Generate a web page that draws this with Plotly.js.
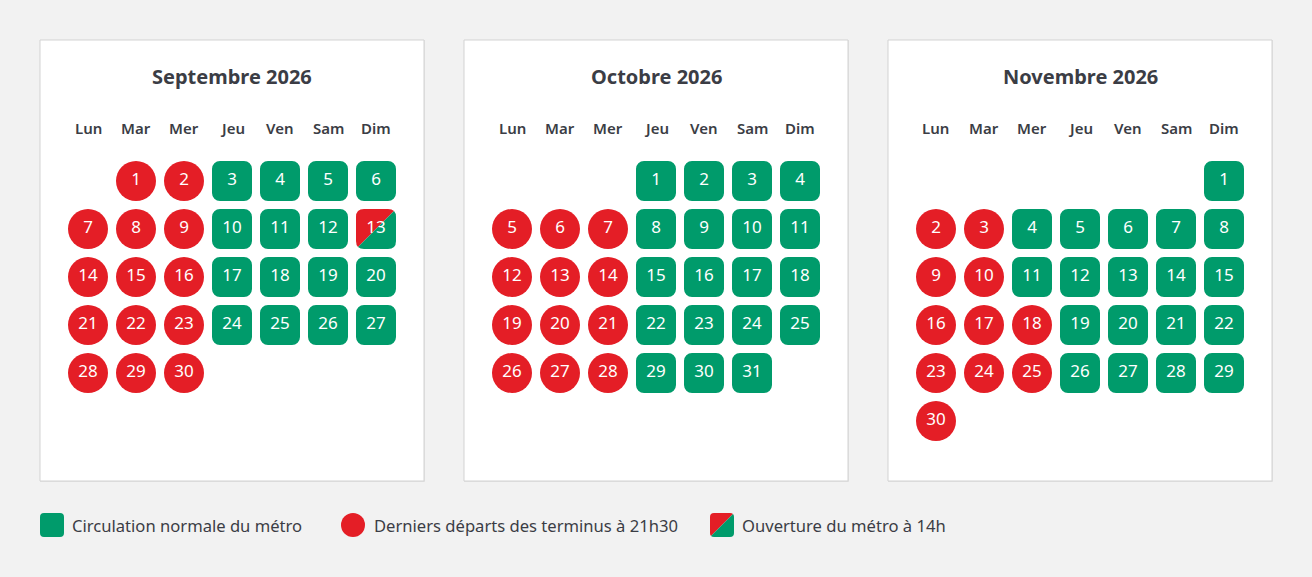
<!DOCTYPE html>
<html>
<head>
<meta charset="utf-8">
<script src="https://cdn.plot.ly/plotly-3.0.1.min.js"></script>
<style>
html,body{margin:0;padding:0;background:#f2f2f2;}
#chart{width:1312px;height:577px;}
.js-plotly-plot .scatterlayer path.point{stroke-linejoin:round;}
</style>
</head>
<body>
<div id="chart"></div>
<script>
// ---- data ----
const monthTitles = ['Septembre 2026', 'Octobre 2026', 'Novembre 2026'];
const monthNumbers = [8, 9, 10]; // JS month index
const weekdayLabels = ['Lun', 'Mar', 'Mer', 'Jeu', 'Ven', 'Sam', 'Dim'];

const sepRed = [1, 2, 7, 8, 9, 14, 15, 16, 21, 22, 23, 28, 29, 30];
const sepGreen = [3, 4, 5, 6, 10, 11, 12, 17, 18, 19, 20, 24, 25, 26, 27];
const sepSplit = [13];

const octRed = [5, 6, 7, 12, 13, 14, 19, 20, 21, 26, 27, 28];
const octGreen = [1, 2, 3, 4, 8, 9, 10, 11, 15, 16, 17, 18, 22, 23, 24, 25, 29, 30, 31];
const octSplit = [];

const novRed = [2, 3, 9, 10, 16, 17, 18, 23, 24, 25, 30];
const novGreen = [1, 4, 5, 6, 7, 8, 11, 12, 13, 14, 15, 19, 20, 21, 22, 26, 27, 28, 29];
const novSplit = [];

const legendLabels = ['Circulation normale du métro', 'Derniers départs des terminus à 21h30', 'Ouverture du métro à 14h'];

// ---- styles ----
const GREEN = '#009b6b';
const RED = '#e41e26';
const DARK = '#3b3d45';
const FONT = 'Noto Sans, Open Sans, sans-serif';
const W = 1312, H = 577;

const redDays = [sepRed, octRed, novRed];
const greenDays = [sepGreen, octGreen, novGreen];
const splitDays = [sepSplit, octSplit, novSplit];

function pos(monthIdx, day) {
  const first = new Date(2026, monthIdx, 1).getDay();
  const firstCol = (first + 6) % 7;
  const d = new Date(2026, monthIdx, day).getDay();
  const col = (d + 6) % 7;
  const row = Math.floor((day - 1 + firstCol) / 7);
  return [col, row];
}

// split path in a coordinate system with y increasing downward
function splitPaths(cx, cy, h, r) {
  const L = cx - h, R = cx + h, T = cy - h, B = cy + h;
  const p = (x, y) => x + ',' + y;
  const red = 'M' + p(L + r / 4, B - r / 4) + ' Q' + p(L, B - r / 2) + ' ' + p(L, B - r) +
    ' L' + p(L, T + r) + ' Q' + p(L, T) + ' ' + p(L + r, T) +
    ' L' + p(R - r, T) + ' Q' + p(R - r / 2, T) + ' ' + p(R - r / 4, T + r / 4) + ' Z';
  const green = 'M' + p(R - r / 4, T + r / 4) + ' Q' + p(R, T + r / 2) + ' ' + p(R, T + r) +
    ' L' + p(R, B - r) + ' Q' + p(R, B) + ' ' + p(R - r, B) +
    ' L' + p(L + r, B) + ' Q' + p(L + r / 2, B) + ' ' + p(L + r / 4, B - r / 4) + ' Z';
  return [red, green];
}

const traces = [];
const shapes = [];
const annotations = [];
const layout = {
  width: W, height: H,
  margin: {l: 0, r: 0, t: 0, b: 0},
  paper_bgcolor: '#f2f2f2',
  plot_bgcolor: 'rgba(0,0,0,0)',
  showlegend: false,
  font: {family: FONT, color: DARK},
  shapes: shapes,
  annotations: annotations
};

const UNIT = 48; // px per cell
for (let m = 0; m < 3; m++) {
  const off = m * 424;
  const ax = m === 0 ? '' : String(m + 1);
  layout['xaxis' + ax] = {
    domain: [(64 + off) / W, (400 + off) / W], range: [-0.5, 6.5],
    visible: false, fixedrange: true, anchor: 'y' + ax
  };
  layout['yaxis' + ax] = {
    domain: [132 / H, 420 / H], range: [5.5, -0.5],
    visible: false, fixedrange: true, anchor: 'x' + ax
  };
  // panel background
  shapes.push({type: 'rect', xref: 'paper', yref: 'paper', layer: 'below',
    x0: (40 + off) / W, x1: (425 + off) / W, y0: (H - 482) / H, y1: (H - 40) / H,
    fillcolor: '#e2e2e2', line: {width: 0}});
  shapes.push({type: 'rect', xref: 'paper', yref: 'paper', layer: 'below',
    x0: (40 + off) / W, x1: (424 + off) / W, y0: (H - 481) / H, y1: (H - 40) / H,
    fillcolor: '#ffffff', line: {color: '#d3d3d3', width: 1}});
  // title
  annotations.push({xref: 'paper', yref: 'paper', x: (232 + off) / W, y: (H - 77) / H,
    text: monthTitles[m], showarrow: false, xanchor: 'center', yanchor: 'middle',
    font: {size: 20, weight: 700, color: DARK, family: FONT}});
  // weekday headers
  weekdayLabels.forEach((lab, i) => {
    annotations.push({xref: 'x' + ax, yref: 'paper', x: i, y: (H - 128) / H, text: lab,
      showarrow: false, xanchor: 'center', yanchor: 'middle',
      font: {size: 15, weight: 600, color: DARK, family: FONT}});
  });
  const mi = monthNumbers[m];
  const rp = redDays[m].map(d => pos(mi, d));
  traces.push({type: 'scatter', mode: 'markers+text', xaxis: 'x' + ax, yaxis: 'y' + ax,
    x: rp.map(p => p[0]), y: rp.map(p => p[1]), text: redDays[m].map(String),
    textposition: 'middle center', cliponaxis: false, hoverinfo: 'skip',
    textfont: {color: '#ffffff', size: 17, family: FONT},
    marker: {symbol: 'circle', size: 40, color: RED, line: {width: 0}}});
  const gp = greenDays[m].map(d => pos(mi, d));
  traces.push({type: 'scatter', mode: 'markers+text', xaxis: 'x' + ax, yaxis: 'y' + ax,
    x: gp.map(p => p[0]), y: gp.map(p => p[1]), text: greenDays[m].map(String),
    textposition: 'middle center', cliponaxis: false, hoverinfo: 'skip',
    textfont: {color: '#ffffff', size: 17, family: FONT},
    marker: {symbol: 'square', size: 24, color: GREEN, line: {width: 16, color: GREEN}}});
  const sp = splitDays[m].map(d => pos(mi, d));
  if (sp.length) {
    sp.forEach(p => {
      const [rPath, gPath] = splitPaths(p[0], p[1], 20 / UNIT, 8 / UNIT);
      shapes.push({type: 'path', xref: 'x' + ax, yref: 'y' + ax, layer: 'below',
        path: rPath, fillcolor: RED, line: {width: 0}});
      shapes.push({type: 'path', xref: 'x' + ax, yref: 'y' + ax, layer: 'below',
        path: gPath, fillcolor: GREEN, line: {width: 0}});
    });
    traces.push({type: 'scatter', mode: 'text', xaxis: 'x' + ax, yaxis: 'y' + ax,
      x: sp.map(p => p[0]), y: sp.map(p => p[1]), text: splitDays[m].map(String),
      textposition: 'middle center', cliponaxis: false, hoverinfo: 'skip',
      textfont: {color: '#ffffff', size: 17, family: FONT}});
  }
}

// legend (own pixel-scaled axis)
layout.xaxis4 = {domain: [0, 1], range: [0, W], visible: false, fixedrange: true, anchor: 'y4'};
layout.yaxis4 = {domain: [0, 1], range: [H, 0], visible: false, fixedrange: true, anchor: 'x4'};
const legendIconX = [52, 353, 722];
const legendTextX = [70, 372, 740];
const legendY = 525;
traces.push({type: 'scatter', mode: 'markers', xaxis: 'x4', yaxis: 'y4', hoverinfo: 'skip',
  x: [legendIconX[0]], y: [legendY],
  marker: {symbol: 'square', size: 16, color: GREEN, line: {width: 8, color: GREEN}}});
traces.push({type: 'scatter', mode: 'markers', xaxis: 'x4', yaxis: 'y4', hoverinfo: 'skip',
  x: [legendIconX[1]], y: [legendY],
  marker: {symbol: 'circle', size: 24, color: RED, line: {width: 0}}});
const [lr, lg] = splitPaths(legendIconX[2], legendY, 12, 4);
shapes.push({type: 'path', xref: 'x4', yref: 'y4', layer: 'above', path: lr, fillcolor: RED, line: {width: 0}});
shapes.push({type: 'path', xref: 'x4', yref: 'y4', layer: 'above', path: lg, fillcolor: GREEN, line: {width: 0}});
legendLabels.forEach((lab, i) => {
  annotations.push({xref: 'paper', yref: 'paper', x: legendTextX[i] / W, y: (H - legendY) / H,
    text: lab, showarrow: false, xanchor: 'left', yanchor: 'middle',
    font: {size: 16.6, color: DARK, family: FONT}});
});

Plotly.newPlot('chart', traces, layout, {staticPlot: true, displayModeBar: false});
</script>
</body>
</html>
